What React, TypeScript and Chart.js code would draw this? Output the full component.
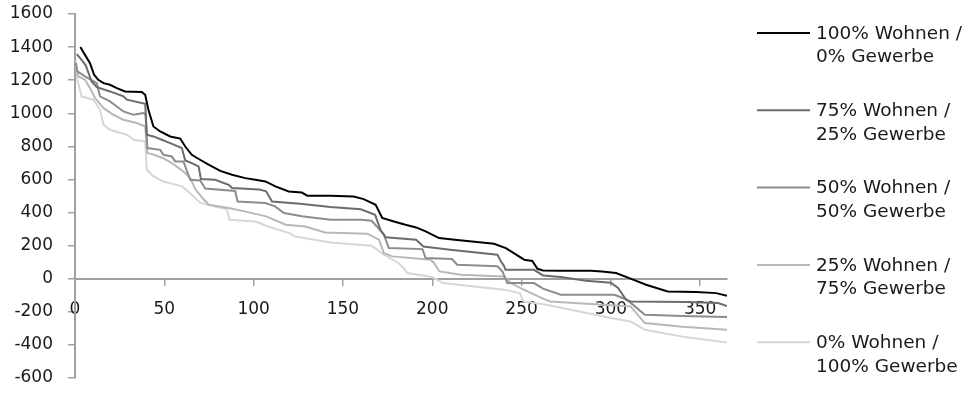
import React, { useEffect, useRef } from "react";
import { Chart, registerables } from "chart.js";

Chart.register(...registerables);

// ---- data ----
const seriesLabels: string[][] = [
  ["100% Wohnen /", "0% Gewerbe"],
  ["75% Wohnen /", "25% Gewerbe"],
  ["50% Wohnen /", "50% Gewerbe"],
  ["25% Wohnen /", "75% Gewerbe"],
  ["0% Wohnen /", "100% Gewerbe"],
];

const seriesColors = ["#000000", "#6c6c6c", "#8c8c8c", "#b8b8b8", "#d6d6d6"];

const xTicks = [0, 50, 100, 150, 200, 250, 300, 350];
const yTicks = [-600, -400, -200, 0, 200, 400, 600, 800, 1000, 1200, 1400, 1600];

const wohnen100: [number, number][] = [
  [3, 1400], [5.6, 1353], [8.4, 1303], [10.7, 1233], [13, 1202], [16, 1182], [19.6, 1172],
  [23.4, 1152], [28, 1132], [37.4, 1128], [39.3, 1112], [41.1, 1021], [43.9, 920], [47.7, 890],
  [53.3, 860], [58.9, 847], [61.7, 799], [65.4, 749], [70, 719], [74.8, 689], [81.3, 652],
  [87.9, 628], [95.3, 608], [101, 598], [106.6, 588], [112.2, 558], [119.6, 527], [127, 521],
  [130, 502], [143, 502], [156, 497], [161.6, 481], [168.3, 447], [172, 367], [178.5, 346],
  [185, 326], [191, 310], [196.3, 286], [203.8, 246], [212.6, 236], [234.6, 211], [241.2, 185],
  [251.5, 115], [256, 107], [258.9, 60], [262, 50], [272, 48], [289, 48], [295, 44],
  [302.9, 34], [310.3, 4], [319.7, -36], [331.8, -77], [347.7, -80], [359, -87], [365, -103],
];

const wohnen75: [number, number][] = [
  [1, 1358], [3.7, 1323], [6, 1290], [9.3, 1192], [12.2, 1158], [19.6, 1132], [27.1, 1102],
  [29, 1082], [39.3, 1057], [40.2, 870], [43.9, 860], [48.6, 840], [53.3, 820], [59.8, 790],
  [61.7, 715], [65.4, 699], [69.2, 679], [70.5, 602], [78.5, 598], [86, 568], [88, 548],
  [103, 540], [107, 528], [110.3, 467], [126, 453], [143, 433], [160, 420], [168, 387],
  [171, 296], [174, 250], [191, 236], [195, 195], [210, 175], [236.5, 145], [238.4, 105],
  [240.3, 75], [241, 54], [257, 54], [262, 20], [272, 10], [286, -12], [300, -24], [304, -56],
  [308.5, -127], [311, -137], [342, -140], [360, -147], [365, -165],
];

const wohnen50: [number, number][] = [
  [0.5, 1303], [1.3, 1253], [5.6, 1223], [12.2, 1182], [14, 1102], [19.6, 1072], [23.4, 1041],
  [27.1, 1011], [29.9, 1001], [32.7, 991], [38.3, 1001], [39.5, 995], [40.5, 790], [47.7, 779],
  [49.5, 749], [54.2, 739], [56.1, 709], [60.7, 709], [64.5, 598], [70.1, 594], [72.9, 545],
  [89.7, 530], [91, 467], [106.6, 457], [112, 437], [117, 397], [127, 377], [143, 357],
  [160, 357], [166, 350], [169, 316], [172.9, 266], [175.7, 185], [194.5, 179], [196.3, 125],
  [211, 119], [214, 85], [236.5, 75], [239.3, 44], [242, -26], [257, -26], [262, -60],
  [272, -97], [302, -97], [309, -127], [319, -218], [340, -225], [365, -232],
];

const wohnen25: [number, number][] = [
  [0, 1313], [1.9, 1223], [5.6, 1202], [8.4, 1152], [11.2, 1092], [16, 1031], [21.5, 991],
  [27, 961], [34.6, 941], [39.3, 920], [40.5, 760], [44, 750], [49, 730], [54, 700], [58, 670],
  [61, 645], [64.5, 610], [67.3, 542], [72, 480], [75, 447], [86, 427], [95, 407], [107, 377],
  [118, 326], [129, 316], [140, 280], [163.6, 272], [170.2, 236], [172.9, 155], [177.6, 135],
  [199, 115], [201, 95], [204, 44], [216, 24], [240, 14], [244, -26], [250, -60], [262, -120],
  [266, -137], [300, -160], [311, -167], [319, -268], [340, -290], [365, -308],
];

const wohnen0: [number, number][] = [
  [0.5, 1320], [1.3, 1202], [3.7, 1102], [10.3, 1082], [14, 1021], [16, 930], [19.6, 900],
  [29, 870], [33, 840], [39.3, 830], [40.2, 659], [44, 618], [49.5, 588], [60, 558],
  [65.4, 508], [70, 460], [77, 440], [85, 420], [86.5, 356], [101, 346], [108, 316],
  [120, 276], [123, 256], [143, 219], [166, 199], [173, 145], [181, 95], [184, 64], [186, 34],
  [200, 10], [206, -26], [240, -66], [249, -87], [251, -137], [264, -157], [300, -237],
  [311, -258], [319, -308], [340, -350], [365, -385],
];

const seriesData = [wohnen100, wohnen75, wohnen50, wohnen25, wohnen0];

const FONT = "'DejaVu Sans', 'Liberation Sans', Arial, sans-serif";
const AXIS_COLOR = "#a0a0a0";
const TEXT_COLOR = "#1a1a1a";

export default function App() {
  const canvasRef = useRef<HTMLCanvasElement | null>(null);

  useEffect(() => {
    document.body.style.margin = "0";
    const canvas = canvasRef.current;
    if (!canvas) return;

    const sideLegend = {
      id: "sideLegend",
      afterDraw(chart: any) {
        const ctx = chart.ctx as CanvasRenderingContext2D;
        const area = chart.chartArea;
        const lineX0 = area.right + 30;
        const lineX1 = lineX0 + 53;
        const textX = lineX1 + 6;
        const top = area.top + 19;
        const step = 77.3;
        const lineGap = 23.5;
        ctx.save();
        ctx.font = `18.5px ${FONT}`;
        ctx.textBaseline = "middle";
        ctx.textAlign = "left";
        chart.data.datasets.forEach((ds: any, i: number) => {
          const y = top + i * step;
          ctx.strokeStyle = ds.borderColor;
          ctx.lineWidth = 2;
          ctx.beginPath();
          ctx.moveTo(lineX0, y);
          ctx.lineTo(lineX1, y);
          ctx.stroke();
          ctx.fillStyle = TEXT_COLOR;
          (ds.label as string).split("\n").forEach((t: string, j: number) => {
            ctx.fillText(t, textX, y + j * lineGap + 1);
          });
        });
        ctx.restore();
      },
    };

    const chart = new Chart(canvas, {
      type: "line",
      data: {
        datasets: seriesData.map((pts, i) => ({
          label: seriesLabels[i].join("\n"),
          data: pts.map(([x, y]) => ({ x, y })),
          borderColor: seriesColors[i],
          backgroundColor: seriesColors[i],
          borderWidth: 2,
          pointRadius: 0,
          tension: 0,
          fill: false,
        })),
      },
      options: {
        animation: false,
        responsive: false,
        maintainAspectRatio: false,
        layout: { padding: { top: 14, bottom: 15, left: 0, right: 253 } },
        plugins: {
          legend: { display: false },
          tooltip: { enabled: false },
        },
        scales: {
          x: {
            type: "linear",
            min: 0,
            max: 365,
            position: { y: 0 } as any,
            afterBuildTicks: (axis: any) => {
              axis.ticks = xTicks.map((v) => ({ value: v }));
            },
            grid: {
              drawOnChartArea: false,
              drawTicks: true,
              tickLength: 6,
              color: AXIS_COLOR,
              lineWidth: 1.5,
            },
            border: { display: true, color: AXIS_COLOR, width: 2 },
            ticks: {
              color: TEXT_COLOR,
              font: { family: FONT, size: 17 },
              padding: 15,
              maxRotation: 0,
              autoSkip: false,
              callback: (v: any) => String(v),
            },
          },
          y: {
            type: "linear",
            min: -600,
            max: 1600,
            afterBuildTicks: (axis: any) => {
              axis.ticks = yTicks.map((v) => ({ value: v }));
            },
            afterFit: (axis: any) => {
              axis.width = 75;
              axis.paddingTop = 0;
              axis.paddingBottom = 0;
            },
            grid: {
              drawOnChartArea: false,
              drawTicks: true,
              tickLength: 7,
              color: AXIS_COLOR,
              lineWidth: 1.5,
            },
            border: { display: true, color: AXIS_COLOR, width: 2 },
            ticks: {
              color: TEXT_COLOR,
              font: { family: FONT, size: 17 },
              padding: 15,
              autoSkip: false,
              callback: (v: any) => String(v),
            },
          },
        },
      },
      plugins: [sideLegend],
    });

    return () => {
      chart.destroy();
    };
  }, []);

  return (
    <div style={{ width: 980, height: 393, position: "relative" }}>
      <canvas ref={canvasRef} width={980} height={393} style={{ display: "block" }} />
    </div>
  );
}
